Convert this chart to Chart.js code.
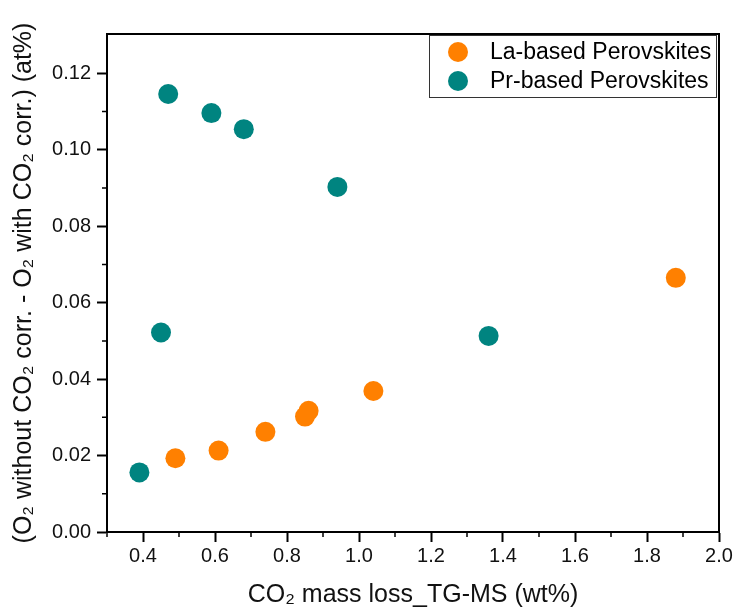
<!DOCTYPE html>
<html>
<head>
<meta charset="utf-8">
<script src="https://cdn.jsdelivr.net/npm/chart.js@4.4.1/dist/chart.umd.min.js"></script>
<style>
  html, body { margin: 0; padding: 0; background: #fff; }
  #wrap { width: 736px; height: 610px; }
</style>
</head>
<body>
<div id="wrap"><canvas id="chart"></canvas></div>
<script>
const LA_X = [0.49, 0.61, 0.74, 0.85, 0.86, 1.04, 1.88];
const LA_Y = [0.0193, 0.0213, 0.0262, 0.0302, 0.0317, 0.0369, 0.0665];
const PR_X = [0.39, 0.45, 0.47, 0.59, 0.68, 0.94, 1.36];
const PR_Y = [0.0156, 0.0522, 0.1146, 0.1096, 0.1054, 0.0903, 0.0513];
const SERIES_NAMES = ['La-based Perovskites', 'Pr-based Perovskites'];
const SERIES_COLORS = ['#ff8000', '#008480'];

const X_TICKS = [0.4, 0.6, 0.8, 1.0, 1.2, 1.4, 1.6, 1.8, 2.0];
const X_MINOR = [0.3, 0.5, 0.7, 0.9, 1.1, 1.3, 1.5, 1.7, 1.9];
const Y_TICKS = [0, 0.02, 0.04, 0.06, 0.08, 0.10, 0.12];
const Y_MINOR = [0.01, 0.03, 0.05, 0.07, 0.09, 0.11];

const X_TITLE = 'CO\u2082 mass loss_TG-MS (wt%)';
const Y_TITLE = '(O\u2082 without CO\u2082 corr. - O\u2082 with CO\u2082 corr.) (at%)';

const FONT = '"Liberation Sans", Arial, sans-serif';

const toPoints = (xs, ys) => xs.map((x, i) => ({ x, y: ys[i] }));

// frame, minor ticks and the boxed legend inside the plot
const framePlugin = {
    id: 'frame',
    beforeDatasetsDraw(chart) {
        const { ctx, chartArea: a, scales } = chart;
        ctx.save();
        ctx.strokeStyle = '#000';
        ctx.lineWidth = 2;
        ctx.beginPath();
        ctx.moveTo(a.left, a.top);
        ctx.lineTo(a.right, a.top);
        ctx.lineTo(a.right, a.bottom);
        ctx.stroke();

        ctx.lineWidth = 1.5;
        ctx.beginPath();
        X_MINOR.forEach(v => {
            const px = scales.x.getPixelForValue(v);
            ctx.moveTo(px, a.bottom);
            ctx.lineTo(px, a.bottom + 5);
        });
        Y_MINOR.forEach(v => {
            const py = scales.y.getPixelForValue(v);
            ctx.moveTo(a.left, py);
            ctx.lineTo(a.left - 5, py);
        });
        ctx.stroke();
        ctx.restore();
    },
    afterDraw(chart) {
        const { ctx, chartArea: a } = chart;
        const w = 287, h = 62;
        const left = a.right - 3 - w;
        const top = a.top + 1;
        ctx.save();
        ctx.fillStyle = '#fff';
        ctx.fillRect(left, top, w, h);
        ctx.strokeStyle = '#333';
        ctx.lineWidth = 1;
        ctx.strokeRect(left + 0.5, top + 0.5, w, h);
        ctx.font = '23px ' + FONT;
        ctx.textBaseline = 'middle';
        chart.data.datasets.forEach((ds, i) => {
            const cy = top + 17 + i * 29;
            ctx.fillStyle = ds.backgroundColor;
            ctx.beginPath();
            ctx.arc(left + 29, cy, 10, 0, Math.PI * 2);
            ctx.fill();
            ctx.fillStyle = '#000';
            ctx.fillText(ds.label, left + 61, cy + 1);
        });
        ctx.restore();
    }
};

new Chart(document.getElementById('chart'), {
    type: 'scatter',
    data: {
        datasets: [
            {
                label: SERIES_NAMES[0],
                data: toPoints(LA_X, LA_Y),
                backgroundColor: SERIES_COLORS[0],
                borderWidth: 0,
                pointRadius: 10,
                pointHoverRadius: 10
            },
            {
                label: SERIES_NAMES[1],
                data: toPoints(PR_X, PR_Y),
                backgroundColor: SERIES_COLORS[1],
                borderWidth: 0,
                pointRadius: 10,
                pointHoverRadius: 10
            }
        ]
    },
    options: {
        responsive: true,
        maintainAspectRatio: false,
        animation: false,
        layout: { padding: { top: 34, right: 17, left: 0, bottom: 0 } },
        plugins: {
            legend: { display: false },
            tooltip: { enabled: false }
        },
        scales: {
            x: {
                type: 'linear',
                min: 0.3,
                max: 2.0,
                afterBuildTicks(scale) {
                    scale.ticks = X_TICKS.map(v => ({ value: v }));
                },
                afterFit(scale) { scale.height = 78; },
                border: { color: '#000', width: 2 },
                grid: {
                    drawOnChartArea: false,
                    drawTicks: true,
                    tickLength: 10,
                    tickWidth: 2,
                    tickColor: '#000'
                },
                ticks: {
                    color: '#111',
                    font: { family: FONT, size: 20 },
                    padding: 2,
                    maxRotation: 0,
                    autoSkip: false,
                    callback: v => Number(v).toFixed(1)
                },
                title: {
                    display: true,
                    text: X_TITLE,
                    color: '#111',
                    font: { family: FONT, size: 25 },
                    padding: { top: 4, bottom: 0 }
                }
            },
            y: {
                type: 'linear',
                min: 0,
                max: 0.1303,
                afterBuildTicks(scale) {
                    scale.ticks = Y_TICKS.map(v => ({ value: v }));
                },
                afterFit(scale) { scale.width = 107; },
                border: { color: '#000', width: 2 },
                grid: {
                    drawOnChartArea: false,
                    drawTicks: true,
                    tickLength: 10,
                    tickWidth: 2,
                    tickColor: '#000'
                },
                ticks: {
                    color: '#111',
                    font: { family: FONT, size: 20 },
                    padding: 6,
                    autoSkip: false,
                    callback: v => Number(v).toFixed(2)
                },
                title: {
                    display: true,
                    text: Y_TITLE,
                    color: '#111',
                    font: { family: FONT, size: 25 },
                    padding: { top: 9, bottom: 0 }
                }
            }
        }
    },
    plugins: [framePlugin]
});
</script>
</body>
</html>
